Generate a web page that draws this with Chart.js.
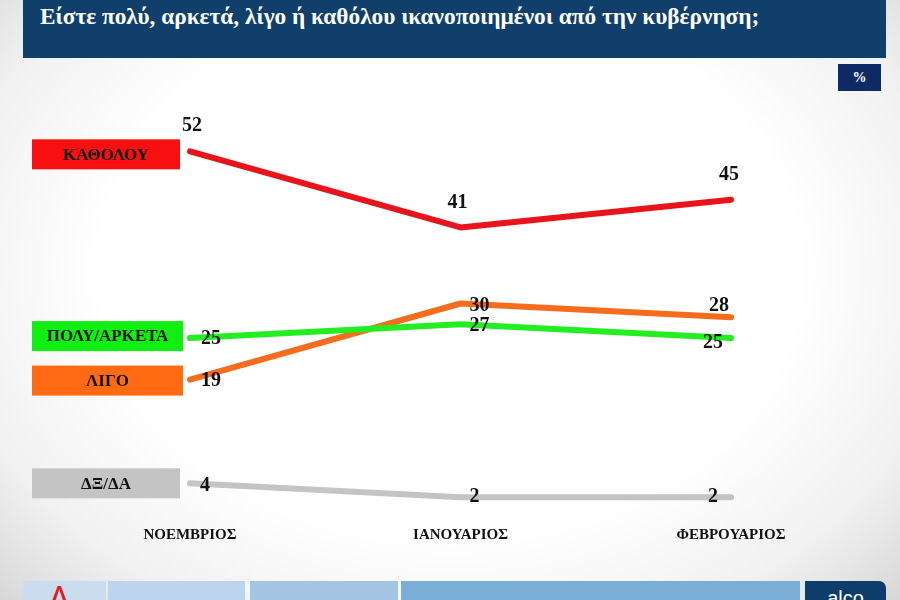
<!DOCTYPE html>
<html>
<head>
<meta charset="utf-8">
<script src="https://cdn.jsdelivr.net/npm/chart.js@4"></script>
<style>
  html, body { margin: 0; padding: 0; }
  body {
    width: 900px; height: 600px; position: relative; overflow: hidden;
    background: radial-gradient(ellipse 70% 80% at 50% 45%, #ffffff 55%, #f1f1f1 80%, #d6d6d6 100%);
    font-family: "Liberation Serif", serif;
  }
  #title {
    position: absolute; left: 23px; top: 0; width: 863px; height: 58px;
    background: #103f6c; color: #fff; font-weight: bold; font-size: 23.3px;
    box-sizing: border-box; padding: 3px 0 0 17px;
  }
  #pct {
    position: absolute; left: 838px; top: 64px; width: 43px; height: 27px;
    background: #0e2b68; color: #fff; font-weight: bold; font-size: 14px;
    text-align: center; line-height: 27px;
  }
  #strip div { position: absolute; top: 581px; height: 19px; overflow: hidden; }
  #chart { position: absolute; left: 0; top: 0; }
</style>
</head>
<body>
<div id="title">Είστε πολύ, αρκετά, λίγο ή καθόλου ικανοποιημένοι από την κυβέρνηση;</div>
<div id="pct">%</div>
<div id="strip">
  <div style="left:23px;width:83px;background:#cbdcee;"><span style="position:absolute;left:29px;top:0px;color:#e01b22;font:bold 22px 'Liberation Sans';">Λ</span></div>
  <div style="left:108px;width:137px;background:#bcd4ee;"></div>
  <div style="left:250px;width:148px;background:#a3c5e3;"></div>
  <div style="left:401px;width:399px;background:#7aaed6;"></div>
  <div style="left:805px;width:81px;background:#0e3d6b;border-top-right-radius:7px;color:#fff;font:20px 'Liberation Sans';text-align:center;line-height:34px;">alco</div>
</div>
<canvas id="chart" width="900" height="600"></canvas>
<script>
const months = ["ΝΟΕΜΒΡΙΟΣ", "ΙΑΝΟΥΑΡΙΟΣ", "ΦΕΒΡΟΥΑΡΙΟΣ"];
const seriesNames = ["ΚΑΘΟΛΟΥ", "ΠΟΛΥ/ΑΡΚΕΤΑ", "ΛΙΓΟ", "ΔΞ/ΔΑ"];
const katholou = [52, 41, 45];
const polyArketa = [25, 27, 25];
const ligo = [19, 30, 28];
const dkda = [4, 2, 2];

const colors = ["#e8141c", "#22ee22", "#f46c1c", "#c4c4c4"];
const boxColors = ["#f80f0f", "#11ee11", "#ff6a12", "#c4c4c4"];
// offsets of the value labels from each point, per series
const labelOffsets = [
    [[2, -26], [-3, -25], [-2, -25]],
    [[21, 1], [19, 2], [-18, 5]],
    [[21, 1], [19, 2], [-12, -12]],
    [[15, 2], [14, 0], [-18, 0]]
];

const sideBoxes = {
    id: "sideBoxes",
    afterDatasetsDraw(chart) {
        const ctx = chart.ctx;
        ctx.save();
        chart.data.datasets.forEach((ds, i) => {
            const pts = chart.getDatasetMeta(i).data;
            // name box left of the first point
            const y = pts[0].y + [3, -2, 1, 0][i];
            const w = i === 0 || i === 3 ? 148 : 151;
            ctx.fillStyle = boxColors[i];
            ctx.fillRect(32, y - 15, w, 30);
            ctx.fillStyle = "#111";
            ctx.font = "bold 17px 'Liberation Serif'";
            ctx.textAlign = "center";
            ctx.textBaseline = "middle";
            ctx.fillText(ds.label, 32 + w / 2, y + 1);
            // value labels
            ctx.font = "bold 20px 'Liberation Serif'";
            pts.forEach((p, j) => {
                const o = labelOffsets[i][j];
                ctx.fillText(ds.data[j], p.x + o[0], p.y + o[1]);
            });
        });
        ctx.restore();
    }
};

new Chart(document.getElementById("chart"), {
    type: "line",
    data: {
        labels: months,
        datasets: [katholou, polyArketa, ligo, dkda].map((d, i) => ({
            label: seriesNames[i],
            data: d,
            borderColor: colors[i],
            borderWidth: 6,
            borderCapStyle: "round",
            borderJoinStyle: "round",
            pointRadius: 0,
            tension: 0
        }))
    },
    options: {
        responsive: false,
        animation: false,
        layout: { padding: { left: 190, right: 169, top: 96, bottom: 0 } },
        plugins: { legend: { display: false }, tooltip: { enabled: false } },
        scales: {
            x: {
                offset: false,
                grid: { display: false, drawTicks: false },
                border: { display: false },
                ticks: { color: "#111", padding: 15, font: { family: "Liberation Serif", weight: "bold", size: 15 } },
                afterFit: s => { s.height = 89; }
            },
            y: { display: false, min: 0, max: 60 }
        }
    },
    plugins: [sideBoxes]
});
</script>
</body>
</html>
